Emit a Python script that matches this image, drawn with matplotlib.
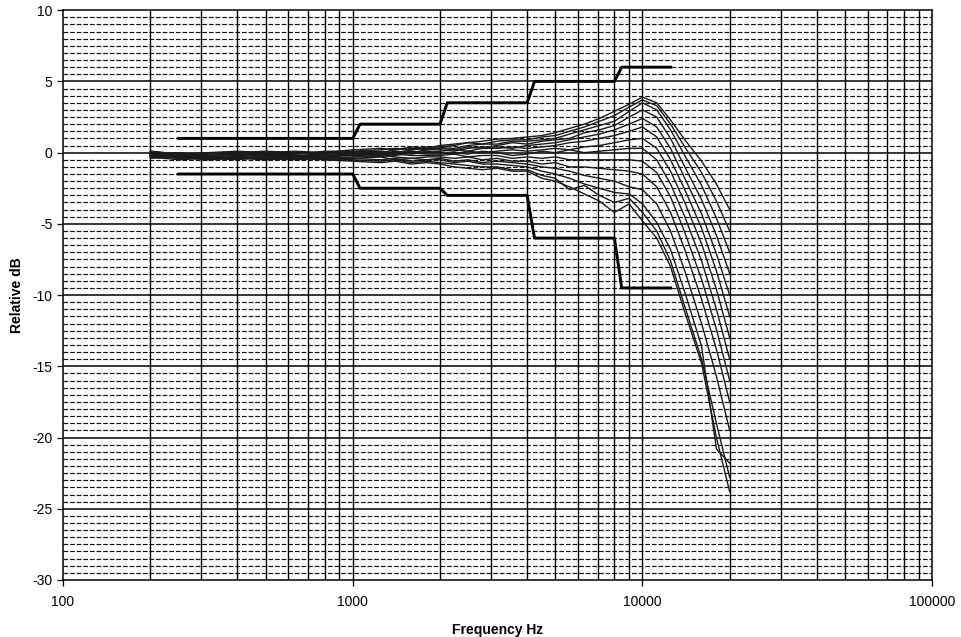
import numpy as np
import matplotlib
matplotlib.use("Agg")
import matplotlib.pyplot as plt
from matplotlib.ticker import FixedLocator, NullFormatter

plt.rcParams['font.family'] = ['Liberation Sans', 'DejaVu Sans']
plt.rcParams['axes.unicode_minus'] = False

# tolerance mask (upper / lower limits)
mask_freq = [250, 1000, 1060, 2000, 2120, 4000, 4240, 8000, 8480, 12500]
mask_upper = [1.0, 1.0, 2.0, 2.0, 3.5, 3.5, 5.0, 5.0, 6.0, 6.0]
mask_lower = [-1.5, -1.5, -2.5, -2.5, -3.0, -3.0, -6.0, -6.0, -9.5, -9.5]

# measured responses
freq = [200, 250, 315, 400, 500, 630, 800, 1000, 1250, 1400, 1600, 1800, 2000,
        2240, 2500, 2800, 3150, 3550, 4000, 4500, 5000, 5600, 6300, 7100, 8000,
        9000, 10000, 11200, 12500, 14000, 16000, 18000, 20000]

resp_01 = [0.1, -0.1, 0.0, 0.1, 0.0, 0.1, 0.0, 0.2, 0.3, 0.2, 0.4, 0.3, 0.5, 0.6, 0.7, 0.8, 0.95,
           1.0, 1.1, 1.2, 1.4, 1.7, 2.0, 2.4, 2.9, 3.4, 3.9, 3.5, 2.3, 0.9, -0.6, -2.2, -4.0]
resp_02 = [0.0, -0.2, -0.1, 0.0, 0.1, 0.0, -0.1, 0.1, 0.2, 0.3, 0.2, 0.4, 0.4, 0.5, 0.7, 0.6, 0.8,
           0.9, 0.9, 1.1, 1.2, 1.5, 1.8, 2.2, 2.6, 3.2, 3.7, 3.3, 2.0, 0.4, -1.4, -3.4, -5.5]
resp_03 = [-0.1, 0.0, -0.2, -0.1, 0.0, -0.1, 0.1, 0.1, 0.0, 0.2, 0.3, 0.2, 0.35, 0.3, 0.5, 0.6, 0.6,
           0.8, 0.8, 0.9, 1.0, 1.3, 1.6, 1.9, 2.2, 2.9, 3.5, 3.0, 1.6, -0.2, -2.3, -4.6, -7.0]
resp_04 = [0.1, -0.1, -0.3, -0.2, -0.1, 0.0, 0.0, 0.0, 0.1, 0.0, 0.2, 0.3, 0.3, 0.2, 0.4, 0.3, 0.5,
           0.7, 0.6, 0.8, 0.9, 1.0, 1.4, 1.6, 1.9, 2.5, 3.0, 2.5, 1.0, -1.0, -3.3, -5.8, -8.5]
resp_05 = [-0.2, -0.3, -0.1, 0.0, -0.2, -0.1, 0.0, 0.0, -0.1, 0.1, 0.0, 0.2, 0.2, 0.1, 0.3, 0.4, 0.4,
           0.3, 0.5, 0.6, 0.7, 0.9, 1.1, 1.3, 1.6, 2.0, 2.4, 1.8, 0.3, -1.8, -4.3, -7.1, -10.0]
resp_06 = [0.0, -0.2, -0.4, -0.3, -0.1, -0.2, -0.1, -0.1, 0.0, -0.1, 0.1, 0.0, 0.1, 0.2, 0.1, 0.3, 0.3,
           0.4, 0.3, 0.4, 0.5, 0.7, 0.8, 1.0, 1.2, 1.5, 1.8, 1.1, -0.5, -2.6, -5.3, -8.3, -11.5]
resp_07 = [-0.1, -0.3, -0.2, -0.1, -0.3, -0.2, -0.2, -0.1, -0.2, 0.0, -0.1, 0.1, 0.0, -0.1, 0.1, 0.0, 0.1,
           0.2, 0.1, 0.2, 0.3, 0.2, 0.4, 0.5, 0.7, 0.9, 1.0, 0.3, -1.3, -3.5, -6.4, -9.6, -13.0]
resp_08 = [-0.2, -0.4, -0.3, -0.2, -0.1, -0.3, -0.2, -0.2, -0.1, -0.2, 0.0, -0.1, -0.1, 0.0, -0.1, 0.1, 0.0,
           -0.2, -0.1, 0.1, 0.0, 0.2, 0.0, 0.1, 0.2, 0.3, 0.3, -0.5, -2.2, -4.5, -7.6, -11.0, -14.5]
resp_09 = [0.0, -0.2, -0.3, -0.4, -0.2, -0.3, -0.3, -0.2, -0.3, -0.1, -0.2, -0.2, -0.2, -0.1, -0.3, -0.2, -0.2,
           -0.4, -0.3, -0.4, -0.3, -0.5, -0.5, -0.5, -0.5, -0.5, -0.6, -1.4, -3.1, -5.6, -8.9, -12.4, -16.0]
resp_10 = [-0.1, -0.3, -0.5, -0.3, -0.3, -0.2, -0.4, -0.3, -0.2, -0.3, -0.4, -0.3, -0.3, -0.4, -0.3, -0.5, -0.4,
           -0.6, -0.6, -0.8, -0.7, -1.0, -1.0, -1.1, -1.2, -1.3, -1.5, -2.4, -4.2, -6.8, -10.3, -13.8, -17.5]
resp_11 = [-0.3, -0.2, -0.4, -0.5, -0.3, -0.4, -0.3, -0.4, -0.3, -0.5, -0.4, -0.5, -0.4, -0.6, -0.5, -0.7, -0.6,
           -0.7, -0.8, -1.0, -1.1, -1.3, -1.6, -1.8, -2.0, -2.4, -2.6, -3.6, -5.5, -8.3, -12.0, -15.7, -19.5]
resp_12 = [-0.2, -0.4, -0.3, -0.4, -0.5, -0.3, -0.5, -0.4, -0.5, -0.4, -0.6, -0.5, -0.5, -0.7, -0.6, -0.8, -0.8,
           -0.9, -1.0, -1.3, -1.5, -1.8, -2.2, -2.5, -2.8, -2.9, -3.6, -4.9, -6.8, -9.8, -13.6, -20.8, -21.8]
resp_13 = [-0.4, -0.3, -0.5, -0.4, -0.4, -0.5, -0.4, -0.5, -0.6, -0.5, -0.7, -0.6, -0.7, -0.8, -0.9, -1.0, -1.0,
           -1.2, -1.2, -1.6, -1.8, -2.6, -2.3, -3.0, -3.5, -3.2, -4.2, -5.5, -7.6, -10.8, -14.5, -19.0, -22.8]
resp_14 = [-0.3, -0.5, -0.4, -0.3, -0.5, -0.4, -0.5, -0.6, -0.7, -0.6, -0.8, -0.7, -0.8, -1.0, -1.1, -1.2, -1.1,
           -1.3, -1.3, -1.8, -2.0, -2.4, -2.9, -3.4, -4.2, -3.6, -4.8, -6.0, -8.0, -11.2, -14.8, -20.0, -23.8]

responses = [resp_01, resp_02, resp_03, resp_04, resp_05, resp_06, resp_07,
             resp_08, resp_09, resp_10, resp_11, resp_12, resp_13, resp_14]

x_ticks = [100, 1000, 10000, 100000]
y_ticks = [-30, -25, -20, -15, -10, -5, 0, 5, 10]

fig = plt.figure(figsize=(9.62, 6.37), dpi=100)
ax = fig.add_axes([0.0655, 0.0895, 0.9035, 0.8945])
ax.set_xscale('log')
ax.set_xlim(100, 100000)
ax.set_ylim(-30, 10)

# grid: solid verticals at every decade step, solid every 5 dB, dashed every 0.5 dB
vlines = [m * 10 ** e for e in range(2, 5) for m in range(1, 10)][1:]
for v in vlines:
    ax.axvline(v, color='black', lw=1.0, zorder=1)
for h in np.arange(-29.5, 10, 0.5):
    if h % 5 == 0:
        ax.axhline(h, color='black', lw=1.1, zorder=1)
    else:
        ax.axhline(h, color='#111111', lw=0.85, ls=(0, (4, 1.6)), zorder=1)

for r in responses:
    ax.plot(freq, r, color='#1a1a1a', lw=1.0, zorder=3)

ax.plot(mask_freq, mask_upper, color='black', lw=2.1, zorder=4)
ax.plot(mask_freq, mask_lower, color='black', lw=2.1, zorder=4)

ax.xaxis.set_major_locator(FixedLocator(x_ticks))
ax.xaxis.set_minor_locator(FixedLocator([]))
ax.xaxis.set_minor_formatter(NullFormatter())
ax.set_xticklabels(['100', '1000', '10000', '100000'])
ax.set_yticks(y_ticks)
ax.tick_params(axis='both', labelsize=10, length=4, width=0.9, direction='out', colors='black')
ax.tick_params(axis='x', pad=7)

for s in ax.spines.values():
    s.set_linewidth(1.1)
    s.set_color('black')

ax.set_xlabel('Frequency Hz', fontsize=10, fontweight='bold', labelpad=10)
ax.set_ylabel('Relative dB', fontsize=10, fontweight='bold', labelpad=6)

fig.savefig('out.png', dpi=100)
